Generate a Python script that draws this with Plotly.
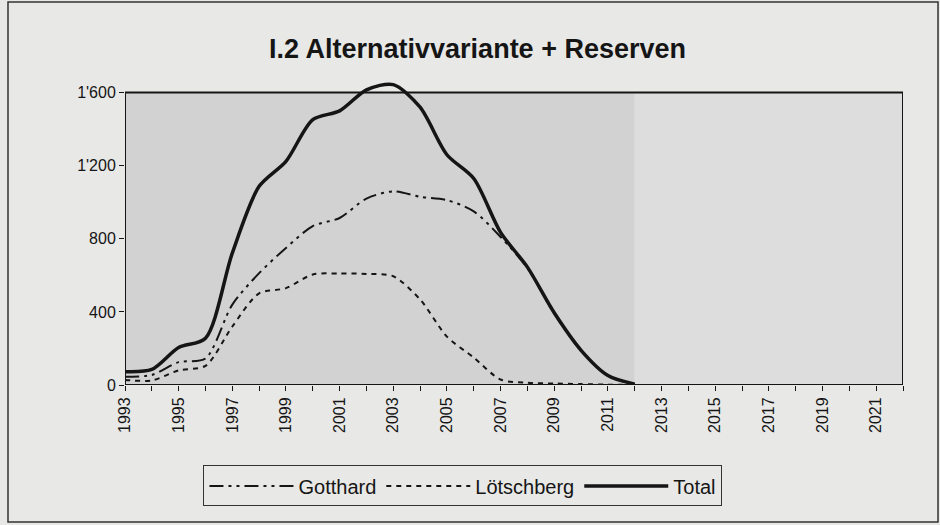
import plotly.graph_objects as go

years = list(range(1993, 2013))
gotthard = [45, 55, 125, 145, 440, 612, 750, 870, 914, 1020, 1060, 1030, 1012, 950, 810, 640, 390, 188, 52, 5]
loetschberg = [28, 25, 80, 105, 320, 502, 530, 605, 610, 608, 595, 468, 265, 150, 30, 12, 8, 5, 2, 0]
total = [73, 85, 205, 256, 722, 1087, 1224, 1452, 1500, 1615, 1644, 1520, 1260, 1130, 835, 645, 395, 190, 52, 5]

x_start, x_end = 1993, 2022
y_ticks = [0, 400, 800, 1200, 1600]
y_ticktext = ["0", "400", "800", "1'200", "1'600"]
x_tickvals = list(range(1993, 2022, 2))

title = "I.2 Alternativvariante + Reserven"
ink = "#151515"
font = "Liberation Sans, Arial, sans-serif"

fig = go.Figure()
fig.add_trace(go.Scatter(x=years, y=gotthard, name="Gotthard", mode="lines",
                         line=dict(color=ink, width=2, dash="14px,5px,3px,5px,3px,5px",
                                   shape="spline", smoothing=0.8)))
fig.add_trace(go.Scatter(x=years, y=loetschberg, name="Lötschberg", mode="lines",
                         line=dict(color=ink, width=2, dash="5px,5px",
                                   shape="spline", smoothing=0.8)))
fig.add_trace(go.Scatter(x=years, y=total, name="Total", mode="lines",
                         line=dict(color=ink, width=3.5, shape="spline", smoothing=0.8)))

shapes = [
    dict(type="rect", xref="x", yref="y", x0=x_start, x1=years[-1], y0=0, y1=y_ticks[-1],
         fillcolor="#d2d2d2", line=dict(width=0), layer="below"),
    dict(type="rect", xref="x", yref="y", x0=years[-1], x1=x_end, y0=0, y1=y_ticks[-1],
         fillcolor="#dddddd", line=dict(width=0), layer="below"),
    dict(type="rect", xref="x", yref="y", x0=x_start, x1=x_end, y0=0, y1=y_ticks[-1],
         fillcolor="rgba(0,0,0,0)", line=dict(color=ink, width=2), layer="above"),
    dict(type="rect", xref="paper", yref="paper", x0=-0.1504, x1=1.045, y0=-0.446, y1=1.2476,
         fillcolor="rgba(0,0,0,0)", line=dict(color="#333333", width=1.5), layer="below"),
]

fig.update_layout(
    width=940, height=525,
    margin=dict(l=125, r=37, t=78, b=140),
    paper_bgcolor="#e8e8e6",
    plot_bgcolor="rgba(0,0,0,0)",
    shapes=shapes,
    title=dict(text="<b>" + title + "</b>", x=0.508, xref="container", xanchor="center",
               y=0.908, yref="container", yanchor="middle",
               font=dict(family="Liberation Sans Narrow, Arial Narrow, sans-serif", size=27, color=ink)),
    font=dict(family=font, size=16, color=ink),
    showlegend=True,
    legend=dict(orientation="h", x=0.4344, xanchor="center", y=-0.262, yanchor="top",
                bordercolor="#333333", borderwidth=1, bgcolor="rgba(0,0,0,0)",
                font=dict(family=font, size=20, color=ink), itemwidth=84,
                traceorder="normal", tracegroupgap=0),
    xaxis=dict(range=[x_start, x_end], tickvals=x_tickvals, ticktext=[str(v) for v in x_tickvals],
               tickangle=-90, ticks="outside", ticklen=5, tickcolor=ink, tickwidth=1.2,
               minor=dict(dtick=1, tick0=1993, ticks="outside", ticklen=5, tickcolor=ink, tickwidth=1.2),
               showgrid=False, zeroline=False, showline=False,
               tickfont=dict(family=font, size=16, color=ink)),
    yaxis=dict(range=[0, 1680], tickvals=y_ticks, ticktext=y_ticktext,
               ticks="outside", ticklen=5, tickcolor=ink, tickwidth=1.2,
               showgrid=False, zeroline=False, showline=False,
               tickfont=dict(family=font, size=16, color=ink)),
)

fig.write_html("out.html", config={"displayModeBar": False},
               post_script="document.body.style.margin='0';")
